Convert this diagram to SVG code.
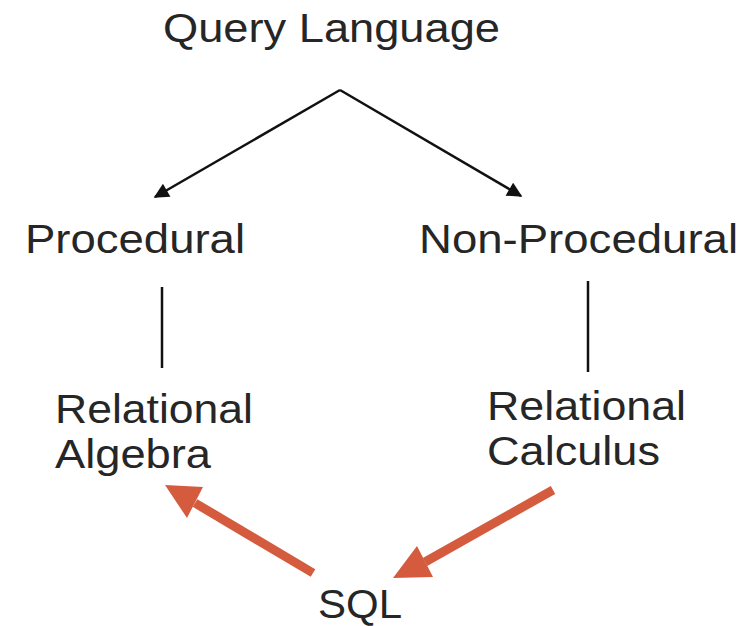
<svg xmlns="http://www.w3.org/2000/svg" width="743" height="626" viewBox="0 0 743 626">
<style>
text{font-family:"Liberation Sans","DejaVu Sans",sans-serif;font-size:40px;fill:#262626}
.blk{stroke:#111;stroke-width:2.5;fill:none}
.red{stroke:#D45B3E;stroke-width:9;fill:none}
.redhead{fill:#D45B3E}
</style>
<defs>
<marker id="ah" viewBox="0 0 10 10" refX="9" refY="5" markerWidth="6.5" markerHeight="6" orient="auto" markerUnits="strokeWidth">
<path d="M0,0 L10,5 L0,10 z" fill="#111"/>
</marker>
</defs>
<g id="query-language"><text x="163" y="42" textLength="337" lengthAdjust="spacingAndGlyphs">Query Language</text></g>
<g id="procedural"><text x="25" y="253" textLength="220" lengthAdjust="spacingAndGlyphs">Procedural</text></g>
<g id="non-procedural"><text x="419" y="253" textLength="319" lengthAdjust="spacingAndGlyphs">Non-Procedural</text></g>
<g id="relational-algebra">
<text x="55" y="423" textLength="198" lengthAdjust="spacingAndGlyphs">Relational</text>
<text x="55" y="468" textLength="156" lengthAdjust="spacingAndGlyphs">Algebra</text>
</g>
<g id="relational-calculus">
<text x="487" y="420" textLength="199" lengthAdjust="spacingAndGlyphs">Relational</text>
<text x="487" y="465" textLength="173" lengthAdjust="spacingAndGlyphs">Calculus</text>
</g>
<g id="sql"><text x="318" y="618" textLength="84" lengthAdjust="spacingAndGlyphs">SQL</text></g>
<g id="connectors">
<path class="blk" d="M340,90 L155,197" marker-end="url(#ah)"/>
<path class="blk" d="M340,90 L521,196" marker-end="url(#ah)"/>
<line class="blk" x1="162" y1="287" x2="162" y2="368"/>
<line class="blk" x1="588" y1="281" x2="588" y2="372"/>
<line class="red" x1="313" y1="573" x2="195" y2="503"/>
<polygon class="redhead" points="165,485 203,487 187,518"/>
<line class="red" x1="553" y1="490" x2="425" y2="562"/>
<polygon class="redhead" points="393,578 417,546 433,577"/>
</g>
</svg>
